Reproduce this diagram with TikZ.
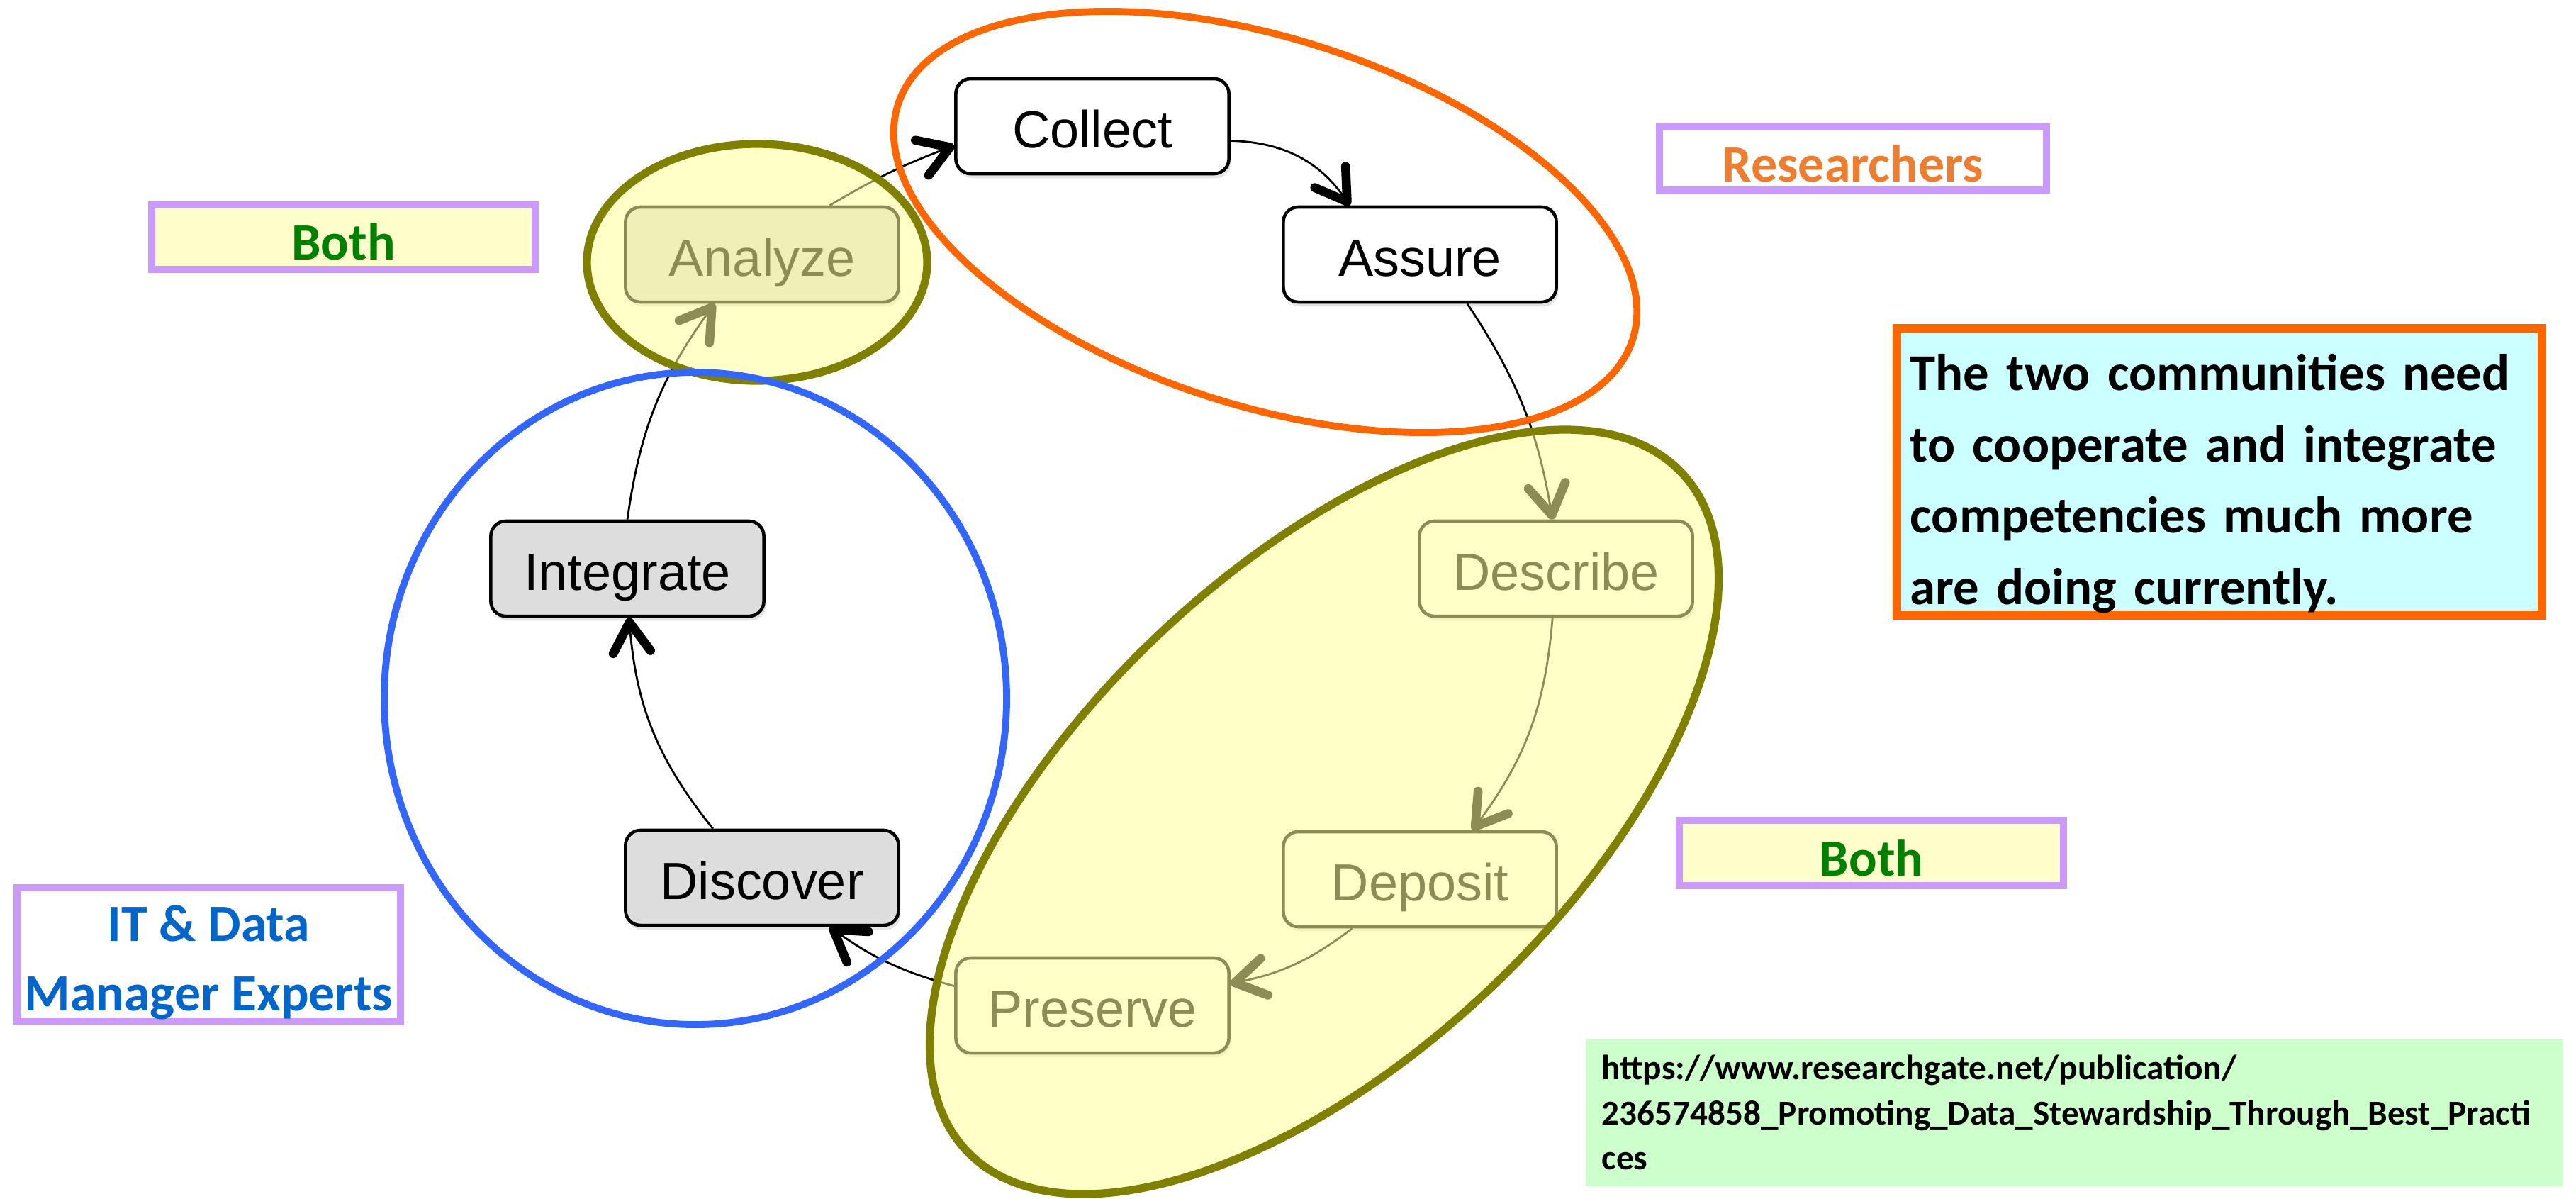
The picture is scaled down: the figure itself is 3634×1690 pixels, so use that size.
\documentclass[tikz,border=0pt]{standalone}
\usepackage{fontspec}
\setmainfont{Liberation Sans}
\newfontfamily\calfont{Carlito}
\usetikzlibrary{arrows.meta,shadows}
\definecolor{olivec}{HTML}{808000}
\definecolor{yellowov}{HTML}{FFFF99}
\definecolor{bluec}{HTML}{3366FF}
\definecolor{orangec}{HTML}{FF6600}
\definecolor{lilac}{HTML}{CC99FF}
\definecolor{boxgray}{HTML}{DDDDDD}
\definecolor{resorange}{HTML}{ED7D31}
\definecolor{bothgreen}{HTML}{008000}
\definecolor{itblue}{HTML}{0066CC}
\definecolor{bothfill}{HTML}{FFFFCC}
\definecolor{notefill}{HTML}{CCFFFF}
\definecolor{srcfill}{HTML}{CCFFCC}
\begin{document}
\begin{tikzpicture}[x=0.01cm,y=-0.01cm,
  stage/.style={draw=black, line width=1.3pt, rounded corners=6pt,
    minimum width=3.85cm, minimum height=1.34cm, inner sep=0pt,
    text height=22pt, text depth=4.4pt,
    font=\fontsize{21}{25}\selectfont,
    drop shadow={opacity=0.22,shadow xshift=0.8pt,shadow yshift=-1.8pt}},
  whitestage/.style={stage, fill=white},
  graystage/.style={stage, fill=boxgray},
  flow/.style={draw=black, line width=0.8pt,
    -{Straight Barb[length=12pt,width=15pt,line width=3.6pt,round]}},
  zone/.style={fill=yellowov, fill opacity=0.55, draw=olivec, line width=3.2pt},
  labelbox/.style={draw=lilac, line width=2.8pt, inner sep=0pt, align=center,
    font=\calfont\bfseries\fontsize{21}{27.7}\selectfont},
  onelabel/.style={labelbox, text height=18.5pt, text depth=0pt}
]
\useasboundingbox[fill=white] (0,0) rectangle (3634,1690);

% stages
\node[whitestage] (collect)   at (1541,178)  {Collect};
\node[whitestage] (assure)    at (2003,359)  {Assure};
\node[whitestage] (describe)  at (2195,802)  {Describe};
\node[whitestage] (deposit)   at (2003,1240) {Deposit};
\node[whitestage] (preserve)  at (1541,1418) {Preserve};
\node[graystage]  (discover)  at (1075,1238) {Discover};
\node[graystage]  (integrate) at (885,802)   {Integrate};
\node[graystage]  (analyze)   at (1075,359)  {Analyze};

% flow
\draw[flow] (analyze.36) to[bend left=5] (collect.188);
\draw[flow] (collect.-6) to[bend left=27] (assure.145);
\draw[flow] (assure.-46) to[bend left=12] (describe.94);
\draw[flow] (describe.-94) to[bend left=16] (deposit.43);
\draw[flow] (deposit.216) to[bend left=13] (preserve.9);
\draw[flow] (preserve.172) to[bend left=10] (discover.-36);
\draw[flow] (discover.135) to[bend left=17] (integrate.-88);
\draw[flow] (integrate.90) to[bend left=14] (analyze.226);

% groupings
\path[zone, rotate around={43.5:(1868,1145)}] (1868,1145) ellipse [x radius=695, y radius=342];
\path[zone] (1068,370) ellipse [x radius=240, y radius=167];
\draw[bluec, line width=2.8pt] (981,985) ellipse [x radius=439, y radius=460];
\draw[orangec, line width=2.8pt, rotate around={-17.7:(1785,313)}] (1785,313) ellipse [x radius=544, y radius=259];

% labels
\node[onelabel, fill=white, text=resorange, minimum width=5.46cm, minimum height=0.89cm] (researchers) at (2614,223.5) {Researchers};
\node[onelabel, fill=bothfill, text=bothgreen, minimum width=5.41cm, minimum height=0.92cm] (bothleft) at (484.5,334) {Both};
\node[onelabel, fill=bothfill, text=bothgreen, minimum width=5.42cm, minimum height=0.92cm] (bothright) at (2640,1203) {Both};
\node[labelbox, fill=white, text=itblue, minimum width=5.41cm, minimum height=1.89cm] (itexperts) at (294.5,1346.5) {\rule{0pt}{20.5pt}IT \& Data\\Manager Experts};

\node[draw=orangec, line width=3.4pt, fill=notefill, inner sep=0pt,
  minimum width=9.10cm, minimum height=4.05cm, text width=8.72cm, align=left,
  font=\calfont\bfseries\fontsize{20.7}{28.6}\selectfont] (note) at (3131,665.5)
  {\rule{0pt}{24pt}The two communities need\\to cooperate and integrate\\competencies much more\\are doing currently.};

\node[fill=srcfill, inner sep=0pt, minimum width=13.79cm, minimum height=2.08cm,
  text width=13.33cm, align=left,
  font=\calfont\bfseries\fontsize{14}{18.1}\selectfont] (source) at (2926.5,1569)
  {https://www.researchgate.net/publication/\\236574858\_Promoting\_Data\_Stewardship\_Through\_Best\_Practi\\ces};
\end{tikzpicture}
\end{document}
